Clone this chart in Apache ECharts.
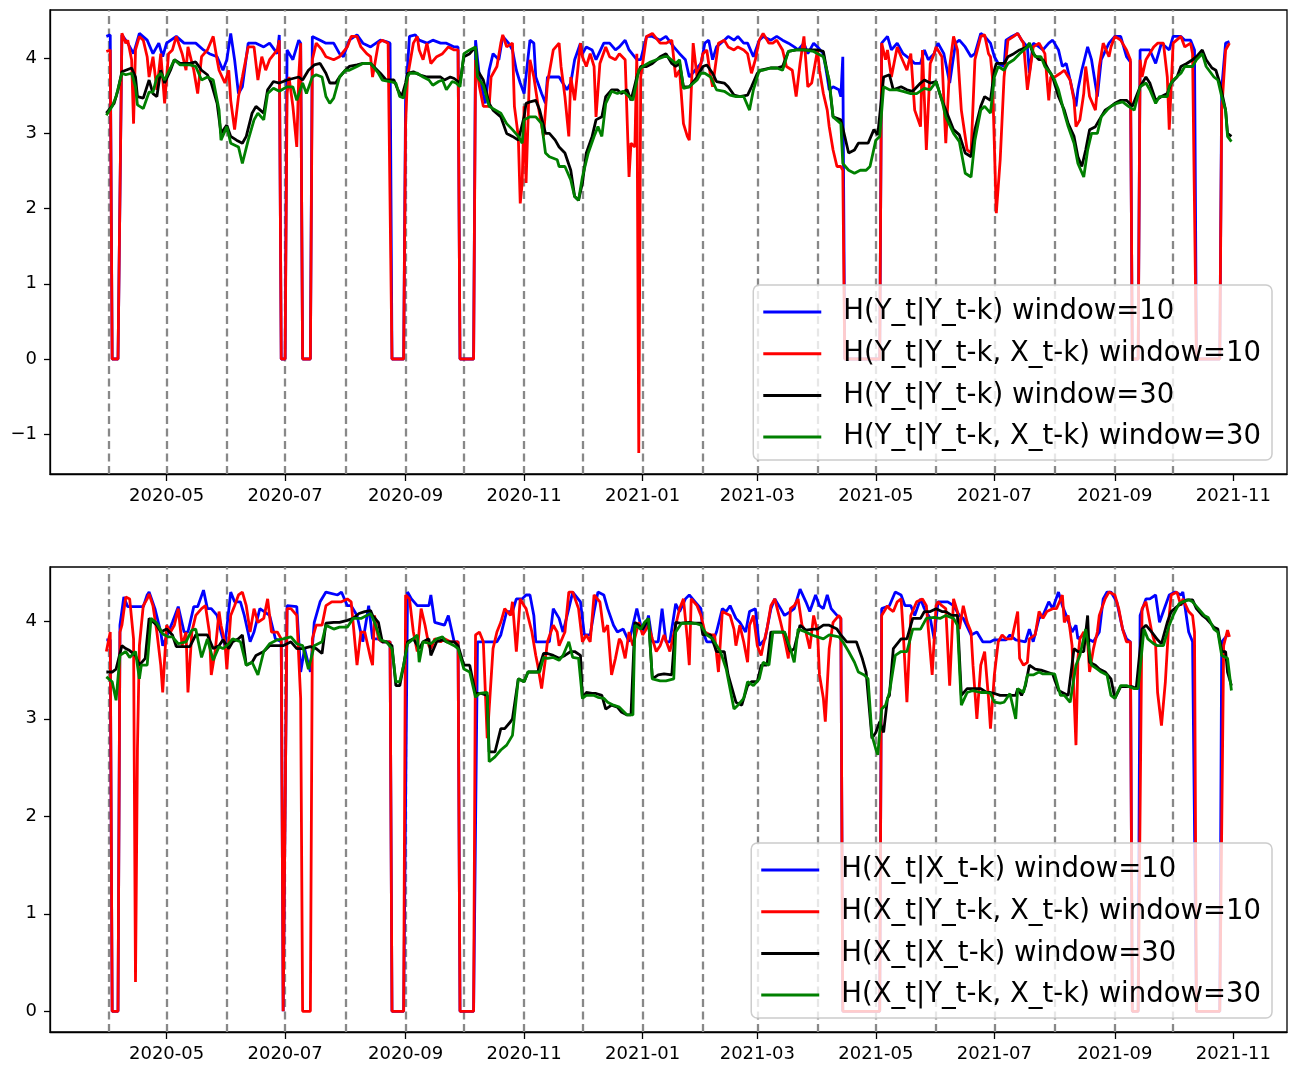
<!DOCTYPE html>
<html><head><meta charset="utf-8">
<script src="https://cdn.jsdelivr.net/npm/echarts@6/dist/echarts.min.js"></script>
<style>html,body{margin:0;padding:0;background:#fff}#c{width:1291px;height:1066px}</style>
</head><body><div id="c"></div>
<script>
// ---------------- data ----------------
const startDate = '2020-04-01'; // day 0 of all series
const tickDates = ['2020-05-01','2020-07-01','2020-09-01','2020-11-01','2021-01-01','2021-03-01','2021-05-01','2021-07-01','2021-09-01','2021-11-01'];
const tickLabels = ['2020-05','2020-07','2020-09','2020-11','2021-01','2021-03','2021-05','2021-07','2021-09','2021-11'];
const monthLineDates = ['2020-04-01','2020-05-01','2020-06-01','2020-07-01','2020-08-01','2020-09-01','2020-10-01','2020-11-01','2020-12-01','2021-01-01','2021-02-01','2021-03-01','2021-04-01','2021-05-01','2021-06-01','2021-07-01','2021-08-01','2021-09-01','2021-10-01'];
const yTicksTop = [-1,0,1,2,3,4];
const yTicksBottom = [0,1,2,3,4];
const namesTop = ['H(Y_t|Y_t-k) window=10','H(Y_t|Y_t-k, X_t-k) window=10','H(Y_t|Y_t-k) window=30','H(Y_t|Y_t-k, X_t-k) window=30'];
const namesBottom = ['H(X_t|X_t-k) window=10','H(X_t|Y_t-k, X_t-k) window=10','H(X_t|X_t-k) window=30','H(X_t|Y_t-k, X_t-k) window=30'];

// [day offset from startDate, value]
const topBlue = [[-1,4.29],[1,4.31],[2,0],[5,0],[7,4.31],[10,4.2],[13,4.06],[16,4.33],[20,4.24],[23,4.06],[26,4.2],[28,4.02],[30,4.2],[35,4.29],[39,4.2],[45,4.2],[49,4.11],[52,4.06],[56,4.02],[59,3.84],[61,3.98],[63,4.33],[65,3.98],[67,3.53],[69,3.62],[72,4.2],[76,4.2],[80,4.15],[83,4.2],[87,4.06],[88,4.31],[89,0],[91,0],[92,4.11],[95,3.98],[98,4.24],[99,4.2],[100,0],[104,0],[105,4.29],[109,4.24],[112,4.2],[116,4.2],[119,4.06],[121,4.02],[124,4.24],[128,4.31],[131,4.2],[135,4.15],[140,4.24],[143,4.22],[145,4.2],[146,0],[152,0],[153,3.49],[155,4.29],[158,4.31],[160,4.24],[164,4.2],[167,4.24],[171,4.2],[174,4.2],[178,4.15],[180,4.15],[181,0],[188,0],[189,4.24],[191,3.75],[194,3.4],[196,3.84],[198,4.06],[201,3.98],[203,4.29],[206,4.2],[208,4.11],[210,3.84],[212,3.67],[214,3.53],[217,4.24],[219,4.2],[220,3.75],[223,3.53],[225,3.4],[226,3.75],[229,3.75],[232,3.75],[236,3.58],[238,3.67],[240,3.98],[243,4.2],[244,4.06],[246,4.15],[249,4.11],[251,3.98],[255,4.2],[258,4.2],[261,4.11],[263,4.15],[266,4.24],[268,4.11],[272,3.98],[274,3.98],[277,4.29],[280,4.29],[284,4.24],[287,4.29],[291,4.15],[294,4.06],[297,3.98],[299,3.75],[302,3.84],[305,3.93],[307,4.2],[309,4.24],[311,3.98],[313,4.15],[317,4.24],[319,4.29],[322,4.24],[324,4.29],[327,4.2],[329,4.2],[332,4.02],[335,4.24],[337,4.29],[341,4.24],[344,4.29],[347,4.24],[350,4.2],[353,4.15],[355,4.11],[358,4.2],[360,4.06],[363,4.2],[365,4.15],[368,4.06],[370,3.75],[371,3.58],[373,3.62],[376,3.58],[377,3.49],[378,4.02],[379,0],[397,0],[398,4.2],[401,4.29],[403,4.11],[406,4.2],[409,4.06],[413,3.98],[415,3.93],[418,3.93],[420,4.11],[422,3.98],[425,4.06],[427,4.2],[430,4.06],[433,3.67],[436,4.2],[438,4.24],[441,4.15],[444,4.02],[446,4.06],[449,4.33],[451,4.29],[454,4.2],[456,4.02],[458,3.93],[461,3.89],[462,4.24],[465,4.29],[468,4.33],[470,4.24],[473,4.15],[474,3.8],[476,4.2],[479,4.15],[481,4.11],[484,4.2],[486,4.24],[489,4.11],[491,3.89],[493,3.93],[495,3.71],[498,3.36],[499,3.58],[501,3.84],[504,4.15],[506,3.98],[509,3.49],[511,3.98],[515,4.2],[518,4.29],[521,4.29],[524,4.02],[526,3.95],[527,0],[530,0],[531,4.11],[533,4.11],[536,4.11],[539,3.93],[542,4.2],[546,4.11],[548,4.29],[552,4.29],[554,4.24],[557,4.24],[559,4.11],[560,0],[572,0],[573,3.6],[575,4.2],[577,4.22]];

const topRed = [[-1,4.09],[1,4.11],[2,0],[5,0],[7,4.33],[9,4.2],[10,4.24],[12,3.98],[13,3.13],[14,4.11],[16,4.29],[18,4.24],[20,4.02],[21,3.75],[23,4.02],[25,3.58],[27,4.06],[29,3.4],[31,4.06],[33,4.11],[35,4.29],[38,4.06],[40,3.84],[41,4.15],[44,3.84],[46,3.53],[48,4.02],[51,4.11],[54,4.29],[56,3.98],[57,3.84],[60,3.67],[62,3.84],[63,3.44],[65,3.05],[67,3.49],[69,3.75],[72,4.15],[75,4.15],[77,3.71],[79,4.02],[81,3.84],[83,3.98],[87,4.11],[88,4.24],[89,0],[91,0],[92,3.53],[93,3.75],[95,3.36],[97,2.82],[98,3.75],[99,4.2],[100,0],[104,0],[105,3.98],[107,4.2],[110,4.11],[112,4.02],[116,3.98],[119,4.02],[123,4.15],[125,4.29],[128,4.29],[130,4.15],[133,4.06],[135,4.02],[136,3.75],[139,4.2],[141,4.24],[144,4.2],[145,4.2],[146,0],[152,0],[153,3.13],[154,3.75],[157,4.2],[159,4.29],[160,4.11],[162,3.98],[164,4.2],[166,3.93],[169,4.02],[172,4.06],[175,4.15],[178,4.11],[180,4.11],[181,0],[188,0],[189,3.98],[191,3.62],[193,3.36],[196,3.36],[197,3.75],[200,3.89],[202,4.2],[203,4.31],[205,4.15],[208,4.2],[209,3.36],[211,2.96],[212,2.07],[213,2.34],[214,3.36],[215,2.34],[217,3.98],[219,3.75],[221,3.4],[224,2.96],[226,3.67],[229,4.11],[232,4.2],[233,3.89],[235,3.49],[237,2.96],[238,3.75],[240,3.44],[243,4.2],[244,4.02],[246,3.89],[248,4.06],[250,3.89],[251,3.22],[253,3.93],[256,4.15],[258,4.02],[261,3.98],[263,4.06],[266,3.98],[268,2.42],[269,2.87],[271,2.82],[272,4.06],[273,-1.25],[274,3.75],[277,4.29],[280,4.33],[284,4.2],[287,4.2],[290,4.24],[292,3.75],[294,3.84],[296,3.13],[298,2.96],[299,2.91],[301,4.2],[303,3.75],[305,3.93],[306,4.06],[308,4.11],[310,3.75],[311,3.62],[314,4.2],[317,4.24],[319,4.15],[322,4.11],[324,4.15],[327,4.11],[329,4.06],[331,3.8],[333,3.98],[335,4.24],[337,4.33],[340,4.2],[342,4.2],[344,4.24],[347,4.11],[349,3.89],[352,3.84],[354,3.49],[356,3.93],[358,4.29],[360,3.62],[362,3.67],[365,4.11],[366,3.84],[368,3.53],[370,3.31],[371,3.09],[373,2.78],[375,2.56],[377,2.56],[378,2.51],[379,0],[397,0],[398,4.2],[400,3.98],[401,4.11],[403,3.75],[406,4.15],[408,4.02],[411,3.84],[413,4.06],[415,3.31],[418,3.09],[419,4.11],[421,2.78],[423,3.93],[425,4.06],[426,4.15],[429,4.02],[431,2.87],[433,3.89],[435,4.29],[437,4.11],[439,3.31],[442,2.78],[444,2.74],[446,3.98],[449,4.29],[451,4.31],[453,4.06],[454,4.02],[455,3.75],[457,1.94],[459,2.65],[461,3.75],[463,4.24],[466,4.29],[468,4.33],[471,4.2],[473,3.58],[476,4.15],[479,4.2],[482,4.06],[484,3.44],[485,3.75],[487,3.75],[490,3.8],[492,3.84],[495,3.71],[497,3.44],[498,3.09],[500,3.18],[502,3.53],[503,3.89],[505,3.49],[508,3.31],[510,3.89],[512,4.2],[515,4.02],[516,4.15],[518,4.29],[521,4.24],[524,4.11],[526,3.98],[527,0],[530,0],[531,3.98],[532,3.75],[534,3.98],[538,4.15],[540,4.2],[543,4.2],[545,3.75],[546,3.05],[548,4.2],[552,4.29],[554,4.15],[557,4.2],[558,4.06],[560,0],[572,0],[573,3.31],[575,4.11],[577,4.2]];

const topBlack = [[-1,3.27],[3,3.4],[5,3.58],[7,3.82],[9,3.84],[12,3.87],[14,3.75],[15,3.49],[18,3.47],[21,3.71],[23,3.53],[25,3.49],[27,3.84],[29,3.67],[32,3.84],[34,3.98],[37,3.93],[42,3.93],[45,3.95],[48,3.84],[51,3.78],[53,3.67],[56,3.4],[58,3.0],[61,3.11],[63,2.96],[66,2.91],[69,2.87],[71,2.96],[74,3.27],[76,3.36],[80,3.27],[82,3.58],[85,3.69],[88,3.67],[92,3.71],[95,3.73],[98,3.75],[100,3.71],[103,3.84],[106,3.91],[109,3.93],[112,3.8],[114,3.67],[117,3.67],[119,3.75],[122,3.84],[124,3.89],[128,3.91],[131,3.93],[135,3.93],[140,3.8],[143,3.71],[147,3.71],[149,3.58],[151,3.49],[153,3.67],[154,3.8],[157,3.82],[160,3.78],[164,3.75],[167,3.75],[171,3.75],[173,3.71],[176,3.75],[178,3.73],[181,3.67],[183,4.02],[186,4.06],[189,4.15],[190,3.84],[193,3.71],[196,3.4],[198,3.31],[202,3.22],[205,3.0],[208,2.96],[211,2.91],[214,3.22],[215,3.4],[217,3.42],[220,3.44],[222,3.31],[225,3.0],[227,3.0],[230,2.91],[232,2.82],[235,2.74],[238,2.51],[240,2.16],[242,2.11],[244,2.34],[246,2.74],[249,2.96],[251,3.18],[254,3.22],[256,3.49],[259,3.58],[262,3.58],[264,3.53],[267,3.58],[269,3.44],[272,3.75],[274,3.89],[277,3.89],[280,3.93],[284,4.02],[287,4.06],[290,3.93],[292,3.89],[294,3.93],[296,3.62],[299,3.62],[303,3.75],[306,3.89],[308,3.91],[311,3.8],[313,3.69],[317,3.67],[319,3.62],[322,3.51],[325,3.49],[329,3.51],[331,3.62],[334,3.8],[336,3.84],[341,3.87],[344,3.87],[347,3.89],[350,4.09],[354,4.11],[361,4.11],[365,4.11],[368,4.09],[371,3.67],[373,3.22],[377,3.18],[379,2.96],[381,2.74],[384,2.78],[386,2.87],[389,2.87],[391,2.87],[394,3.05],[396,2.98],[399,3.75],[402,3.78],[404,3.58],[408,3.62],[411,3.58],[414,3.56],[418,3.67],[420,3.71],[423,3.67],[426,3.69],[429,3.44],[431,3.31],[435,3.05],[438,2.98],[441,2.74],[444,2.69],[446,3.05],[449,3.36],[451,3.49],[454,3.44],[456,3.84],[457,3.93],[461,3.93],[463,4.02],[466,4.06],[469,4.11],[473,4.15],[474,4.2],[476,4.06],[479,3.98],[481,3.98],[484,3.84],[486,3.75],[489,3.49],[492,3.31],[494,3.13],[497,2.96],[499,2.69],[501,2.56],[503,2.78],[505,3.05],[508,3.09],[510,3.18],[513,3.31],[516,3.36],[518,3.4],[521,3.44],[524,3.44],[527,3.36],[528,3.36],[531,3.62],[534,3.75],[536,3.67],[539,3.44],[542,3.49],[545,3.53],[547,3.67],[550,3.75],[552,3.89],[555,3.93],[558,3.98],[560,4.02],[563,4.11],[565,3.98],[568,3.87],[570,3.84],[572,3.67],[575,3.31],[576,3.0],[578,2.96]];

const topGreen = [[-1,3.24],[2,3.36],[4,3.49],[7,3.8],[9,3.78],[12,3.8],[14,3.62],[15,3.38],[18,3.33],[21,3.55],[23,3.55],[25,3.75],[27,3.8],[29,3.71],[32,3.87],[34,3.98],[37,3.91],[42,3.91],[45,3.89],[48,3.71],[51,3.75],[54,3.71],[57,3.31],[58,2.91],[61,3.09],[63,2.87],[67,2.82],[69,2.6],[72,2.91],[75,3.18],[77,3.27],[80,3.18],[82,3.53],[85,3.6],[88,3.56],[92,3.62],[95,3.62],[97,3.44],[100,3.67],[102,3.53],[105,3.75],[107,3.78],[110,3.75],[112,3.49],[114,3.4],[116,3.47],[119,3.75],[122,3.84],[124,3.84],[128,3.89],[131,3.93],[135,3.93],[139,3.8],[141,3.71],[145,3.69],[148,3.67],[150,3.49],[152,3.47],[154,3.75],[155,3.8],[159,3.8],[162,3.75],[165,3.71],[167,3.64],[170,3.69],[172,3.71],[174,3.58],[177,3.69],[179,3.67],[181,3.62],[183,4.06],[186,4.11],[189,4.15],[190,3.75],[193,3.64],[196,3.36],[198,3.33],[202,3.27],[205,3.13],[208,3.05],[211,2.96],[213,2.87],[214,3.18],[217,3.22],[220,3.22],[223,3.13],[225,2.74],[227,2.69],[231,2.65],[232,2.56],[235,2.56],[238,2.38],[240,2.16],[242,2.11],[244,2.42],[247,2.74],[250,2.96],[252,3.09],[254,2.96],[256,3.4],[259,3.56],[262,3.53],[265,3.56],[268,3.49],[270,3.44],[273,3.84],[275,3.89],[279,3.95],[282,3.98],[286,4.02],[288,4.02],[292,3.93],[294,3.98],[296,3.6],[299,3.62],[303,3.71],[305,3.8],[307,3.8],[310,3.75],[313,3.58],[317,3.56],[320,3.51],[323,3.49],[327,3.49],[330,3.31],[332,3.58],[335,3.84],[337,3.84],[341,3.87],[344,3.87],[347,3.84],[350,4.09],[354,4.11],[358,4.11],[363,4.09],[368,4.02],[371,3.71],[373,3.22],[377,3.13],[378,2.6],[381,2.51],[384,2.47],[387,2.51],[390,2.51],[392,2.56],[395,2.91],[397,2.96],[399,3.62],[402,3.58],[406,3.58],[409,3.56],[413,3.53],[416,3.53],[420,3.6],[423,3.58],[426,3.69],[429,3.44],[431,3.22],[435,3.0],[438,2.89],[441,2.47],[444,2.42],[446,2.91],[449,3.31],[451,3.36],[454,3.27],[456,3.75],[458,3.89],[461,3.84],[463,3.93],[466,3.98],[469,4.06],[473,4.15],[474,4.2],[477,4.02],[480,4.02],[482,3.89],[485,3.8],[487,3.71],[489,3.58],[492,3.27],[494,3.09],[497,2.87],[499,2.6],[502,2.42],[504,2.78],[506,3.0],[509,3.0],[511,3.22],[514,3.31],[516,3.36],[519,3.4],[522,3.42],[525,3.36],[528,3.31],[531,3.62],[534,3.67],[536,3.58],[539,3.4],[541,3.49],[545,3.49],[546,3.62],[548,3.71],[552,3.8],[554,3.89],[558,3.89],[560,3.98],[563,4.06],[565,3.89],[569,3.75],[571,3.71],[573,3.49],[575,3.31],[576,2.96],[578,2.89]];

const botBlue = [[-1,3.81],[1,3.81],[2,0],[5,0],[6,3.96],[8,4.25],[10,4.15],[16,4.15],[18,4.15],[20,4.27],[21,4.3],[24,4.13],[27,3.89],[28,3.75],[31,3.89],[33,3.99],[36,4.15],[39,3.89],[41,3.89],[44,4.15],[46,4.15],[49,4.32],[51,4.13],[53,4.13],[56,4.06],[58,3.89],[60,3.75],[63,4.3],[65,4.2],[68,4.2],[70,4.06],[73,3.79],[75,3.89],[78,4.13],[83,4.06],[86,3.82],[89,3.79],[90,0],[91,0],[92,4.16],[93,4.15],[97,4.15],[99,3.48],[101,3.72],[104,3.48],[106,3.99],[109,4.2],[112,4.3],[118,4.27],[120,4.3],[123,4.16],[125,4.16],[128,4.06],[131,3.79],[134,4.16],[136,3.82],[139,3.82],[141,3.79],[145,3.79],[146,0],[152,0],[154,4.3],[156,4.23],[159,4.16],[165,4.16],[166,4.27],[168,3.99],[173,3.96],[175,4.06],[178,3.79],[180,3.79],[181,0],[188,0],[190,3.79],[193,3.79],[200,3.79],[202,3.86],[205,4.1],[208,4.1],[210,4.23],[213,4.23],[215,4.27],[217,4.27],[219,4.06],[220,3.79],[227,3.79],[229,4.13],[232,4.03],[234,3.89],[237,4.13],[239,4.3],[243,4.2],[245,3.86],[248,3.86],[250,4.1],[252,4.3],[255,4.27],[257,4.13],[260,3.96],[262,3.89],[265,3.92],[268,3.79],[270,3.96],[272,4.13],[274,3.96],[276,3.89],[278,4.06],[280,3.79],[283,3.79],[285,4.13],[287,3.79],[289,3.79],[292,4.18],[294,4.1],[297,4.23],[299,4.27],[302,4.2],[305,4.13],[306,3.89],[308,3.79],[311,3.79],[313,3.89],[316,4.13],[318,4.1],[320,4.16],[323,4.03],[325,3.99],[328,3.89],[330,4.1],[333,4.13],[335,3.75],[338,3.82],[341,4.13],[343,4.23],[346,4.13],[348,4.06],[351,4.1],[353,4.13],[356,4.33],[359,4.2],[361,4.1],[364,4.27],[366,4.16],[368,4.13],[370,4.27],[372,4.13],[375,4.06],[377,4.03],[378,0],[397,0],[398,4.13],[402,4.16],[405,4.3],[408,4.27],[410,4.16],[413,4.16],[415,4.06],[418,4.23],[420,4.13],[423,4.03],[425,3.82],[427,4.2],[432,4.2],[435,4.16],[438,4.06],[440,4.03],[444,3.86],[447,3.89],[450,3.79],[454,3.79],[456,3.81],[462,3.81],[464,3.86],[467,3.81],[472,3.79],[474,3.92],[476,3.79],[479,4.03],[481,4.06],[484,4.2],[486,4.13],[489,4.3],[491,4.16],[493,4.06],[496,3.89],[498,3.96],[499,3.82],[502,3.86],[504,3.82],[507,3.79],[510,3.89],[512,4.23],[514,4.3],[516,4.3],[519,4.2],[522,3.92],[524,3.82],[526,3.79],[527,0],[530,0],[531,4.06],[534,4.23],[536,4.23],[539,4.27],[541,3.99],[544,4.16],[546,4.27],[549,4.3],[552,4.27],[553,4.3],[556,3.89],[558,3.79],[560,0],[572,0],[573,3.79],[576,3.86],[577,3.86]];

const botRed = [[-1,3.69],[1,3.89],[2,0],[5,0],[6,3.89],[7,3.96],[9,4.25],[11,4.23],[13,3.82],[14,0.3],[15,2.69],[16,3.75],[18,4.16],[20,4.23],[21,4.28],[23,4.16],[25,3.89],[27,3.55],[28,3.27],[30,3.96],[32,3.89],[34,3.96],[36,4.13],[38,3.75],[40,3.89],[41,3.27],[43,3.89],[45,4.06],[48,4.13],[50,4.16],[52,3.89],[53,3.45],[55,3.69],[57,4.1],[58,3.96],[60,3.79],[61,3.51],[63,4.06],[65,4.16],[67,4.27],[69,4.3],[71,4.16],[73,3.89],[75,4.13],[77,3.99],[80,4.03],[82,4.23],[84,3.89],[87,3.89],[89,3.82],[90,0],[91,0],[92,4.13],[94,4.13],[97,4.06],[99,3.21],[100,0],[104,0],[105,3.82],[107,3.96],[110,3.96],[112,4.16],[115,4.2],[120,4.2],[123,4.23],[125,4.2],[128,3.55],[130,3.89],[132,3.89],[135,3.62],[136,3.55],[137,4.06],[139,3.82],[141,3.79],[145,3.79],[146,0],[152,0],[153,4.27],[155,4.23],[157,3.89],[159,3.69],[161,4.13],[163,3.96],[165,3.75],[166,3.72],[168,3.82],[171,3.79],[173,3.82],[176,3.79],[180,3.79],[181,0],[188,0],[189,3.86],[191,3.89],[193,3.79],[195,2.8],[196,3.1],[198,3.72],[200,3.89],[202,3.99],[204,4.13],[207,4.06],[208,4.2],[210,3.69],[212,4.23],[214,4.16],[215,4.13],[218,3.89],[220,3.65],[221,3.55],[223,3.31],[225,3.62],[226,3.79],[229,3.96],[231,3.89],[232,3.75],[235,3.89],[237,4.3],[239,4.3],[242,4.13],[244,3.79],[246,3.86],[248,3.79],[250,4.27],[253,4.2],[255,3.89],[257,3.96],[259,3.45],[261,3.62],[263,3.82],[264,3.79],[266,3.62],[268,3.89],[270,3.75],[273,3.99],[275,3.86],[278,3.96],[280,3.82],[282,3.69],[284,3.75],[286,3.86],[289,3.69],[292,3.96],[294,4.13],[296,4.23],[298,3.82],[299,3.55],[300,4.23],[303,4.16],[305,4.06],[307,3.89],[310,3.86],[312,3.86],[314,3.48],[316,4.1],[320,4.06],[322,3.92],[323,3.75],[325,3.96],[327,3.79],[329,3.58],[330,3.96],[332,4.06],[334,3.75],[336,3.65],[337,3.75],[339,3.92],[341,4.16],[343,4.23],[346,3.99],[348,3.82],[350,3.62],[351,4.13],[353,4.16],[355,4.23],[357,3.96],[359,3.89],[361,3.72],[363,4.06],[365,3.89],[366,3.45],[368,3.21],[369,2.97],[371,3.72],[373,3.99],[376,4.06],[377,4.03],[378,0],[397,0],[398,4.06],[401,4.16],[402,4.13],[404,4.1],[406,4.2],[408,4.23],[409,3.92],[411,3.17],[413,4.06],[416,4.2],[419,4.23],[421,4.16],[424,3.45],[426,4.16],[427,4.2],[429,4.16],[431,4.13],[433,3.34],[435,4.23],[437,4.1],[438,3.92],[440,4.16],[442,3.99],[444,3.89],[445,3.55],[447,3.0],[449,3.55],[451,3.69],[453,3.21],[454,2.9],[456,3.45],[458,3.79],[460,3.86],[462,3.82],[465,3.82],[468,4.1],[469,3.62],[471,3.55],[473,3.58],[474,3.82],[477,3.86],[479,4.1],[481,4.03],[483,4.1],[486,4.13],[488,4.13],[491,4.27],[492,3.99],[494,4.06],[496,3.75],[498,2.73],[499,3.62],[500,3.82],[502,3.89],[504,3.79],[505,3.48],[507,3.72],[509,3.89],[510,4.06],[513,4.23],[515,4.3],[518,4.27],[520,4.13],[522,3.92],[524,3.79],[526,3.79],[527,0],[530,0],[532,4.13],[534,4.2],[535,4.1],[537,3.89],[539,3.75],[540,3.27],[542,2.93],[544,3.38],[546,4.06],[547,4.27],[550,4.3],[552,4.16],[553,4.23],[556,4.1],[558,4.06],[559,3.89],[560,0],[572,0],[574,3.75],[576,3.91],[577,3.84]];

const botBlack = [[-1,3.48],[2,3.48],[4,3.51],[7,3.75],[9,3.72],[11,3.7],[14,3.65],[16,3.55],[19,3.62],[21,4.03],[25,3.96],[27,3.89],[30,3.92],[33,3.86],[35,3.74],[42,3.74],[45,3.86],[51,3.86],[54,3.72],[57,3.75],[59,3.81],[62,3.72],[64,3.79],[67,3.82],[69,3.86],[71,3.55],[74,3.58],[76,3.65],[80,3.69],[83,3.75],[90,3.75],[94,3.79],[97,3.72],[100,3.72],[104,3.74],[107,3.72],[110,3.67],[112,3.98],[116,3.99],[119,3.99],[123,4.01],[126,4.03],[129,4.08],[132,4.1],[135,4.11],[136,4.06],[139,3.99],[141,3.79],[143,3.79],[146,3.75],[148,3.34],[150,3.34],[152,3.55],[154,3.79],[157,3.82],[160,3.72],[162,3.79],[165,3.82],[166,3.65],[169,3.79],[172,3.81],[174,3.79],[178,3.79],[180,3.75],[183,3.55],[186,3.55],[189,3.26],[192,3.26],[195,3.24],[196,2.66],[199,2.66],[202,2.9],[204,2.9],[207,2.97],[208,3.0],[211,3.41],[214,3.38],[216,3.48],[221,3.48],[224,3.67],[226,3.67],[229,3.65],[232,3.62],[235,3.65],[238,3.69],[240,3.69],[243,3.65],[244,3.21],[246,3.27],[249,3.26],[251,3.26],[254,3.24],[256,3.1],[259,3.14],[262,3.12],[264,3.07],[267,3.04],[269,3.04],[271,3.99],[273,3.96],[275,3.92],[278,4.03],[280,3.41],[283,3.45],[286,3.46],[290,3.45],[292,3.99],[295,3.98],[299,3.99],[302,3.98],[305,3.98],[306,3.86],[310,3.86],[313,3.69],[317,3.69],[319,3.45],[323,3.17],[326,3.14],[329,3.34],[331,3.38],[334,3.38],[336,3.55],[339,3.55],[341,3.89],[348,3.89],[351,3.69],[353,3.72],[356,3.96],[359,3.91],[363,3.92],[365,3.92],[368,3.96],[371,3.96],[375,3.92],[377,3.86],[380,3.79],[385,3.79],[388,3.62],[390,3.48],[393,2.8],[395,2.86],[397,2.97],[399,2.86],[401,3.21],[402,3.24],[404,3.72],[408,3.82],[411,3.82],[414,4.03],[418,4.03],[420,4.1],[423,4.1],[426,4.13],[429,4.1],[431,4.1],[434,4.06],[437,4.06],[439,3.24],[442,3.31],[449,3.31],[452,3.27],[454,3.27],[456,3.26],[459,3.24],[467,3.24],[468,3.31],[470,3.24],[472,3.34],[474,3.55],[477,3.51],[480,3.5],[483,3.48],[486,3.46],[489,3.29],[492,3.26],[494,3.24],[497,3.72],[499,3.69],[502,3.69],[504,4.06],[505,3.58],[508,3.55],[510,3.51],[513,3.48],[516,3.41],[518,3.21],[521,3.33],[527,3.33],[529,3.31],[532,3.92],[534,3.96],[537,3.89],[540,3.81],[542,3.77],[545,3.99],[547,4.1],[550,4.15],[552,4.18],[555,4.22],[558,4.22],[560,4.13],[563,4.06],[565,4.03],[569,3.94],[571,3.92],[573,3.69],[575,3.69],[576,3.48],[578,3.34]];

const botGreen = [[-1,3.43],[2,3.38],[4,3.19],[6,3.65],[9,3.69],[11,3.63],[14,3.69],[16,3.41],[17,3.55],[20,3.55],[22,4.03],[25,3.98],[28,3.87],[31,3.84],[33,3.84],[36,3.77],[40,3.79],[43,3.91],[45,3.92],[48,3.63],[51,3.82],[54,3.6],[57,3.74],[59,3.72],[62,3.77],[64,3.82],[68,3.79],[71,3.55],[74,3.58],[77,3.45],[80,3.69],[83,3.77],[87,3.81],[90,3.82],[94,3.84],[97,3.77],[100,3.75],[103,3.51],[106,3.75],[110,3.79],[112,3.96],[116,3.92],[119,3.94],[123,3.94],[126,4.03],[130,4.03],[133,4.06],[135,4.08],[137,3.99],[140,3.81],[143,3.79],[146,3.72],[148,3.38],[150,3.38],[152,3.55],[154,3.77],[157,3.82],[159,3.86],[160,3.58],[162,3.79],[166,3.77],[169,3.82],[172,3.84],[174,3.79],[178,3.75],[180,3.72],[183,3.51],[186,3.48],[189,3.22],[191,3.26],[195,3.27],[196,2.56],[199,2.61],[202,2.68],[205,2.73],[208,2.83],[211,3.41],[214,3.38],[216,3.48],[222,3.48],[224,3.63],[226,3.62],[229,3.63],[232,3.6],[234,3.65],[237,3.79],[239,3.63],[242,3.62],[244,3.21],[246,3.24],[250,3.24],[252,3.22],[255,3.21],[257,3.17],[260,3.14],[263,3.12],[267,3.04],[270,3.04],[271,3.96],[274,3.92],[276,3.99],[278,4.03],[280,3.41],[284,3.39],[287,3.39],[291,3.41],[292,3.89],[295,3.98],[299,3.98],[302,3.98],[305,3.96],[308,3.86],[311,3.82],[315,3.69],[318,3.51],[322,3.1],[324,3.14],[327,3.21],[329,3.38],[332,3.34],[335,3.41],[337,3.58],[340,3.55],[342,3.89],[348,3.89],[351,3.72],[353,3.58],[355,3.92],[359,3.89],[362,3.86],[365,3.84],[368,3.82],[371,3.86],[376,3.84],[378,3.79],[381,3.69],[384,3.58],[386,3.48],[389,3.45],[391,3.41],[393,2.83],[395,2.69],[396,2.63],[398,3.1],[400,3.14],[402,3.27],[405,3.65],[408,3.69],[411,3.69],[414,3.92],[418,3.92],[421,4.03],[425,4.04],[428,4.03],[431,4.06],[435,4.03],[437,3.96],[439,3.14],[442,3.27],[445,3.29],[449,3.27],[452,3.27],[454,3.26],[456,3.17],[459,3.16],[461,3.17],[464,3.26],[467,3.0],[468,3.31],[471,3.27],[473,3.45],[476,3.45],[479,3.48],[481,3.46],[487,3.46],[490,3.24],[492,3.24],[495,3.17],[498,3.55],[500,3.65],[503,3.92],[504,3.79],[506,3.55],[509,3.51],[511,3.48],[514,3.45],[516,3.24],[518,3.21],[521,3.34],[524,3.34],[528,3.31],[530,3.31],[533,3.92],[535,3.82],[538,3.77],[540,3.75],[543,3.75],[546,3.96],[548,4.06],[551,4.18],[553,4.2],[556,4.22],[558,4.2],[561,4.13],[564,4.06],[566,4.04],[569,3.92],[571,3.89],[573,3.65],[576,3.62],[578,3.29]];

// ---------------- chart ----------------
const DAY = 86400000;
function toUTC(s){const p=s.split('-').map(Number);return Date.UTC(p[0],p[1]-1,p[2]);}
const t0 = toUTC(startDate);
const dayOf = s => Math.round((toUTC(s)-t0)/DAY);
const tickDays = tickDates.map(dayOf);
const lineDays = monthLineDates.map(dayOf);
const labelMap = {}; tickDays.forEach((d,i)=>{labelMap[d]=tickLabels[i];});

const FONT = 'DejaVu Sans';
const colors = ['#0000ff','#ff0000','#000000','#008000'];

function xAxisFor(gi){
  return {type:'value', gridIndex:gi, min:-30, max:606.6,
    axisLine:{show:true, onZero:false, lineStyle:{color:'#000', width:1.3}},
    axisTick:{show:true, customValues:tickDays, length:7, lineStyle:{color:'#000', width:1.3}},
    axisLabel:{customValues:tickDays, formatter:v=>labelMap[Math.round(v)]||'', fontSize:18, fontFamily:FONT, color:'#000', margin:13},
    splitLine:{show:false}};
}
function yAxisFor(gi,min,max,ticks){
  return {type:'value', gridIndex:gi, min:min, max:max,
    axisLine:{show:true, onZero:false, lineStyle:{color:'#000', width:1.3}},
    axisTick:{show:true, customValues:ticks, length:6, lineStyle:{color:'#000', width:1.3}},
    axisLabel:{customValues:ticks, formatter:v=> v<0 ? '\u2212'+Math.abs(v) : String(v), fontSize:18, fontFamily:FONT, color:'#000', margin:13},
    splitLine:{show:false}};
}
function lineSeries(name, data, ci, gi){
  return {type:'line', name:name, data:data, xAxisIndex:gi, yAxisIndex:gi,
    symbol:'none', showSymbol:false, clip:true, animation:false,
    lineStyle:{color:colors[ci], width:2.8}, itemStyle:{color:colors[ci]}};
}
function vlineSeries(gi){
  return {type:'line', name:'vlines'+gi, data:[], xAxisIndex:gi, yAxisIndex:gi, symbol:'none', animation:false,
    markLine:{silent:true, symbol:['none','none'], z:3, animation:false, label:{show:false},
      lineStyle:{color:'#888888', type:[8,4.5], width:2.3},
      emphasis:{disabled:true},
      data: lineDays.map(d=>({xAxis:d}))}};
}
function legendFor(names, top){
  return {data:names, orient:'vertical', right:19, top:top, padding:[13,11,9,10],
    itemWidth:58, itemHeight:3, itemGap:13.7, icon:'rect', selectedMode:false,
    backgroundColor:'rgba(255,255,255,0.8)', borderColor:'#cccccc', borderWidth:1.5, borderRadius:6, z:4,
    textStyle:{fontSize:27.5, lineHeight:28, fontFamily:FONT, color:'#000', padding:[0,0,0,17]}};
}

const topSeries = [topBlue, topRed, topBlack, topGreen];
const botSeries = [botBlue, botRed, botBlack, botGreen];

const option = {
  backgroundColor:'#fff',
  animation:false,
  grid:[
    {left:50, top:10, width:1237, height:464, show:true, borderColor:'#000', borderWidth:1.3, backgroundColor:'transparent'},
    {left:50, top:567, width:1237, height:465, show:true, borderColor:'#000', borderWidth:1.3, backgroundColor:'transparent'}
  ],
  xAxis:[xAxisFor(0), xAxisFor(1)],
  yAxis:[yAxisFor(0,-1.529,4.641,yTicksTop), yAxisFor(1,-0.212,4.557,yTicksBottom)],
  legend:[legendFor(namesTop,285), legendFor(namesBottom,843)],
  series:[
    ...topSeries.map((d,i)=>lineSeries(namesTop[i], d, i, 0)),
    vlineSeries(0),
    ...botSeries.map((d,i)=>lineSeries(namesBottom[i], d, i, 1)),
    vlineSeries(1)
  ]
};
const chart = echarts.init(document.getElementById('c'));
chart.setOption(option);
</script>
</body></html>
